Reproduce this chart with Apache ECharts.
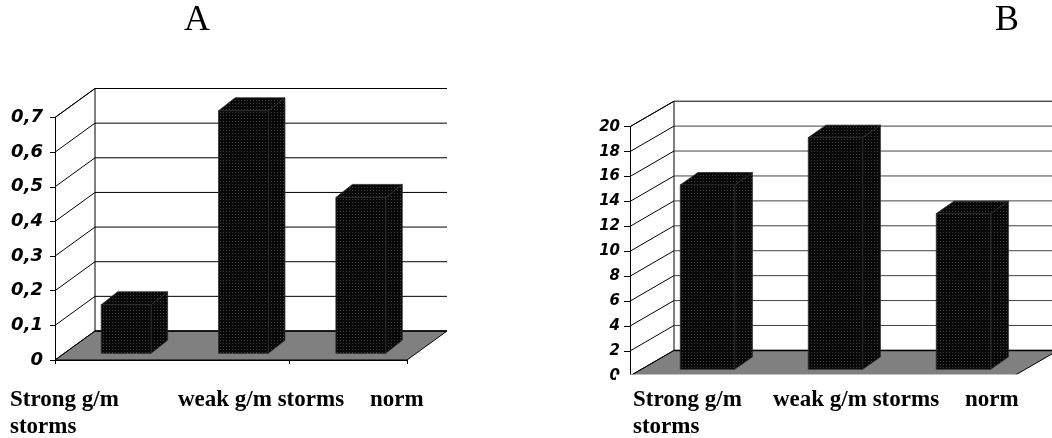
<!DOCTYPE html>
<html>
<head>
<meta charset="utf-8">
<script src="https://cdn.jsdelivr.net/npm/echarts@6/dist/echarts.min.js"></script>
<style>
  html, body { margin: 0; padding: 0; background: #fff; }
  #chart { width: 1052px; height: 438px; }
</style>
</head>
<body>
<div id="chart"></div>
<script>
// Categories and values of the two panels
const categories = ['Strong g/m storms', 'weak g/m storms', 'norm'];
const valuesA = [0.14, 0.70, 0.45];
const valuesB = [14.8, 18.6, 12.5];
const tickLabelsA = ['0', '0,1', '0,2', '0,3', '0,4', '0,5', '0,6', '0,7'];
const tickLabelsB = ['0', '2', '4', '6', '8', '10', '12', '14', '16', '18', '20'];
const panelTitles = ['A', 'B'];

const toNum = s => parseFloat(s.replace(',', '.'));

// Layout / look of each panel (front plane grid, depth of the box, bar placement)
const panels = [
  {
    title: panelTitles[0], labels: tickLabelsA, values: valuesA,
    grid: { left: 55, top: 117.5, width: 352, height: 242.5 },
    depth: [40, -29], shift: [12.5, -6.7], bar: [16.5, -13],
    fontSize: 18, tickLen: 5, labelMargin: 12,
    gridColor: '#000', titlePos: [197, 21],
    catX: [10, 178, 370], catY: 387
  },
  {
    title: panelTitles[1], labels: tickLabelsB, values: valuesB,
    grid: { left: 630, top: 126.7, width: 384, height: 249.2 },
    depth: [44, -25.5], shift: [13.5, -6.6], bar: [17.7, -12.4],
    fontSize: 15, tickLen: 6, labelMargin: 10,
    gridColor: '#444', titlePos: [1007, 21],
    catX: [633, 773, 965], catY: 387
  }
];

// Dotted black fill for the columns
const tile = document.createElement('canvas');
tile.width = 3; tile.height = 3;
const tctx = tile.getContext('2d');
tctx.fillStyle = '#080808'; tctx.fillRect(0, 0, 3, 3);
tctx.fillStyle = '#3c3c3c'; tctx.fillRect(1, 1, 1, 1);
const barFill = { image: tile, repeat: 'repeat' };

const grids = [], xAxes = [], yAxes = [], series = [], graphics = [];

panels.forEach((p, k) => {
  const ticks = p.labels.map(toNum);
  const maxV = ticks[ticks.length - 1];
  const step = ticks[1] - ticks[0];
  const [dx, dy] = p.depth;

  grids.push(Object.assign({ containLabel: false }, p.grid));
  xAxes.push({
    gridIndex: k, type: 'category', data: categories,
    axisLine: { show: true, lineStyle: { color: '#000', width: 1 } },
    axisTick: { show: true, length: 4, lineStyle: { color: '#000' } },
    axisLabel: { show: false }, splitLine: { show: false }
  });
  yAxes.push({
    gridIndex: k, type: 'value', min: 0, max: maxV, interval: step,
    axisLine: { show: true, lineStyle: { color: '#000', width: 1 } },
    axisTick: { show: true, length: p.tickLen, lineStyle: { color: '#000' } },
    splitLine: { show: false },
    axisLabel: {
      margin: p.labelMargin, color: '#000',
      fontFamily: 'DejaVu Sans', fontWeight: 'bold', fontStyle: 'italic',
      fontSize: p.fontSize,
      formatter: v => {
        const i = ticks.findIndex(t => Math.abs(t - v) < step / 100);
        return i >= 0 ? p.labels[i] : '';
      }
    }
  });

  // Floor of the box and back-left edge
  series.push({
    type: 'custom', xAxisIndex: k, yAxisIndex: k, z: 1, clip: false, silent: true,
    data: [[0, 0]],
    renderItem: (params, api) => {
      const cs = params.coordSys;
      const L = cs.x, R = cs.x + cs.width;
      const y0 = api.coord([0, 0])[1];
      const yt = api.coord([0, maxV])[1];
      return {
        type: 'group', children: [
          { type: 'polygon', shape: { points: [[L, y0], [R, y0], [R + dx, y0 + dy], [L + dx, y0 + dy]] },
            style: { fill: '#808080', stroke: '#000', lineWidth: 1 } },
          { type: 'line', shape: { x1: L + dx, y1: y0 + dy, x2: L + dx, y2: yt + dy },
            style: { stroke: '#000', lineWidth: 1 } },
          { type: 'line', shape: { x1: L, y1: yt, x2: L + dx, y2: yt + dy },
            style: { stroke: '#000', lineWidth: 1 } }
        ]
      };
    }
  });

  // Side wall diagonals and back wall gridlines at every tick
  series.push({
    type: 'custom', xAxisIndex: k, yAxisIndex: k, z: 2, clip: false, silent: true,
    data: ticks.map(t => [0, t]),
    renderItem: (params, api) => {
      const cs = params.coordSys;
      const L = cs.x, R = cs.x + cs.width;
      const v = api.value(1);
      const y = api.coord([0, v])[1];
      const isTop = Math.abs(v - maxV) < step / 100;
      const isBottom = v === 0;
      return {
        type: 'group', children: [
          { type: 'line', shape: { x1: L, y1: y, x2: L + dx, y2: y + dy },
            style: { stroke: '#000', lineWidth: 1 } },
          { type: 'line', shape: { x1: L + dx, y1: y + dy, x2: R + dx, y2: y + dy },
            style: { stroke: (isTop || isBottom) ? '#000' : p.gridColor, lineWidth: isBottom ? 1.5 : 1 } }
        ]
      };
    }
  });

  // 3D columns
  series.push({
    type: 'custom', xAxisIndex: k, yAxisIndex: k, z: 3, clip: false, silent: true,
    data: p.values.map((v, i) => [i, v]),
    renderItem: (params, api) => {
      const i = api.value(0), v = api.value(1);
      const base = api.coord([i, 0]);
      const top = api.coord([i, v]);
      const bw = api.size([1, 0])[0] * 0.425;
      const x0 = base[0] - bw / 2 + p.shift[0], x1 = x0 + bw;
      const yb = base[1] + p.shift[1], yt = top[1] + p.shift[1];
      const [bx, by] = p.bar;
      const edge = { stroke: '#2a2a2a', lineWidth: 0.8, lineJoin: 'round' };
      return {
        type: 'group', children: [
          { type: 'polygon', shape: { points: [[x1, yt], [x1 + bx, yt + by], [x1 + bx, yb + by], [x1, yb]] },
            style: Object.assign({ fill: barFill }, edge) },
          { type: 'polygon', shape: { points: [[x0, yt], [x0 + bx, yt + by], [x1 + bx, yt + by], [x1, yt]] },
            style: Object.assign({ fill: barFill }, edge) },
          { type: 'polygon', shape: { points: [[x0, yt], [x1, yt], [x1, yb], [x0, yb]] },
            style: Object.assign({ fill: barFill }, edge) }
        ]
      };
    }
  });

  // Panel letter
  graphics.push({
    type: 'text', x: p.titlePos[0], y: p.titlePos[1], z: 10,
    style: { text: p.title, font: '36px "Liberation Serif"', fill: '#000', align: 'center', verticalAlign: 'middle' }
  });

  // Category names under the box
  categories.forEach((c, i) => {
    const st = { text: c, font: 'bold 23px "Liberation Serif"', fill: '#000', align: 'left', verticalAlign: 'top', lineHeight: 27 };
    if (i === 0) { st.width = 125; st.overflow = 'break'; }
    graphics.push({ type: 'text', x: p.catX[i], y: p.catY, z: 10, style: st });
  });
});

// Panel B is cut off just below its floor
graphics.push({
  type: 'rect', z: 50, silent: true,
  shape: { x: 616, y: 374.5, width: 436, height: 11 },
  style: { fill: '#fff' }
});

const chart = echarts.init(document.getElementById('chart'), null, { renderer: 'canvas' });
chart.setOption({
  animation: false,
  backgroundColor: '#fff',
  grid: grids, xAxis: xAxes, yAxis: yAxes,
  series: series,
  graphic: { elements: graphics }
});
</script>
</body>
</html>
